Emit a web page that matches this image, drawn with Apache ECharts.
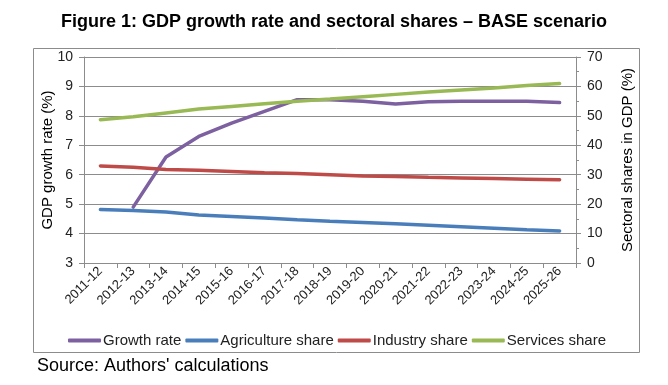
<!DOCTYPE html>
<html><head><meta charset="utf-8">
<script src="https://cdn.jsdelivr.net/npm/echarts@6/dist/echarts.min.js"></script>
<style>html,body{margin:0;padding:0;background:#fff}#c{width:668px;height:385px}</style>
</head><body><div id="c"></div>
<script>
const categories = ['2011-12','2012-13','2013-14','2014-15','2015-16','2016-17','2017-18','2018-19','2019-20','2020-21','2021-22','2022-23','2023-24','2024-25','2025-26'];
const growthRate = [null,4.9,6.6,7.3,7.75,8.15,8.55,8.55,8.5,8.4,8.48,8.5,8.5,8.5,8.45];
const agricultureShare = [18.2,17.8,17.3,16.3,15.8,15.3,14.7,14.2,13.8,13.3,12.8,12.3,11.8,11.3,10.9];
const industryShare = [33,32.5,31.8,31.5,31.1,30.7,30.4,30,29.6,29.4,29.1,28.9,28.7,28.5,28.3];
const servicesShare = [48.7,49.7,51,52.3,53.2,54.1,55,55.7,56.5,57.3,58.1,58.8,59.5,60.3,61];

const chart = echarts.init(document.getElementById('c'));
const font = 'Liberation Sans, Arial, sans-serif';
const gridColor = '#8c8c8c';
const lbl = {color:'#222', fontSize:14, fontFamily:font};
function mk(name, data, color, axis){
  return {name, type:'line', data, yAxisIndex:axis, symbol:'none', connectNulls:false,
    lineStyle:{width:3.5, color, cap:'round'}, itemStyle:{color}};
}
chart.setOption({
  animation:false,
  title:{text:'Figure 1: GDP growth rate and sectoral shares \u2013 BASE scenario', left:'center', top:8,
    textStyle:{fontFamily:font, fontSize:18, fontWeight:'bold', color:'#000'}},
  graphic:[
    {type:'rect', shape:{x:33.5,y:48.5,width:606,height:304}, style:{fill:'none', stroke:'#8c8c8c', lineWidth:1}, z:-1},
    {type:'text', left:37, top:357, style:{text:"Source: Authors' calculations", fontFamily:font, fontSize:18, fill:'#000'}}
  ],
  legend:{top:328, left:63, itemWidth:33, itemHeight:4, itemGap:4, icon:'roundRect',
    textStyle:{fontFamily:font, fontSize:15, color:'#222', padding:[0,0,0,-3]},
    data:['Growth rate','Agriculture share','Industry share','Services share']},
  grid:{left:84, right:92, top:57, bottom:122},
  xAxis:{type:'category', data:categories, boundaryGap:true,
    axisLine:{lineStyle:{color:gridColor}}, axisTick:{show:true, lineStyle:{color:gridColor}, length:5},
    axisLabel:Object.assign({rotate:45, interval:0, margin:6}, lbl, {fontSize:13})},
  yAxis:[
    {type:'value', min:3, max:10, interval:1, name:'GDP growth rate (%)', nameLocation:'middle', nameGap:29, nameRotate:90, nameMoveOverlap:false,
      nameTextStyle:{fontFamily:font, fontSize:15, color:'#000'},
      axisLine:{show:true, lineStyle:{color:gridColor}}, axisTick:{show:true, lineStyle:{color:gridColor}, length:5},
      splitLine:{show:true, lineStyle:{color:gridColor}}, axisLabel:Object.assign({margin:11}, lbl)},
    {type:'value', min:0, max:70, interval:10, position:'right', name:'Sectoral shares in GDP (%)', nameLocation:'middle', nameGap:44, nameRotate:90,
      nameTextStyle:{fontFamily:font, fontSize:15, color:'#000'},
      axisLine:{show:true, lineStyle:{color:gridColor}}, axisTick:{show:true, lineStyle:{color:gridColor}, length:5},
      minorTick:{show:true, splitNumber:2, length:3, lineStyle:{color:gridColor}},
      splitLine:{show:false}, axisLabel:Object.assign({margin:11}, lbl)}
  ],
  series:[
    mk('Growth rate', growthRate, '#7D60A0', 0),
    mk('Agriculture share', agricultureShare, '#4A7EBB', 1),
    mk('Industry share', industryShare, '#BE4B48', 1),
    mk('Services share', servicesShare, '#98B954', 1)
  ]
});
</script></body></html>
